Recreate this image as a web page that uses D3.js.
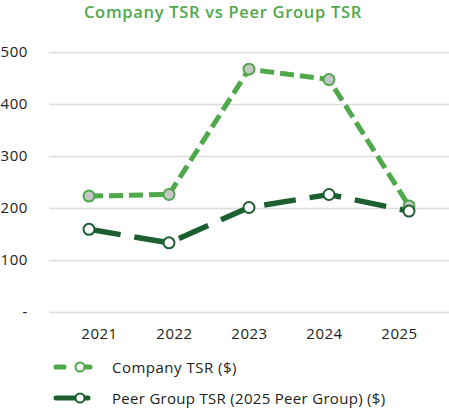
<!DOCTYPE html>
<html lang="en">
<head>
    <meta charset="UTF-8">
    <title>Company TSR vs Peer Group TSR</title>
    <script src="https://cdn.jsdelivr.net/npm/d3@7"></script>
    <style>
        body { margin: 0; background: #fff; }
        text { font-family: "Open Sans", sans-serif; }
    </style>
</head>
<body>
<div id="chart"></div>
<script>

    const years = ["2021", "2022", "2023", "2024", "2025"];
    const companyTSR = [223, 226, 467, 447, 204];
    const peerTSR = [159, 133, 201, 226, 194];
    const yTicks = [0, 100, 200, 300, 400, 500];
    const seriesNames = ["Company TSR ($)", "Peer Group TSR (2025 Peer Group) ($)"];

    const width = 449;
    const height = 408;

    const lightGreen = "#4fa84a";
    const darkGreen = "#1c5f31";

    const svg = d3.select("#chart")
        .append("svg")
        .attr("width", width)
        .attr("height", height)
        .attr("viewBox", [0, 0, width, height]);

    // title
    svg.append("text")
        .attr("x", 223)
        .attr("y", 18)
        .attr("text-anchor", "middle")
        .attr("font-size", 16.5)
        .attr("font-weight", 600)
        .attr("letter-spacing", 0.7)
        .attr("fill", lightGreen)
        .text("Company TSR vs Peer Group TSR");

    const x = d3.scalePoint()
        .domain(years)
        .range([89, 409]);

    // the year labels sit a bit tighter than the points
    const xLabels = d3.scalePoint()
        .domain(years)
        .range([99, 399]);

    const y = d3.scaleLinear()
        .domain([0, 500])
        .range([312, 52]);

    // grid + y labels
    svg.append("g")
        .attr("transform", "translate(49,0)")
        .call(d3.axisLeft(y).tickValues(yTicks).tickSize(-400).tickPadding(21)
            .tickFormat(d => d === 0 ? "-" : d))
        .call(g => g.select(".domain").remove())
        .call(g => g.selectAll("line").attr("stroke", "#dcdcdc").attr("stroke-width", 1.5))
        .call(g => g.selectAll("text")
            .attr("font-size", 15)
            .attr("letter-spacing", 0.6)
            .attr("fill", "#222")
            .attr("font-family", "'Open Sans', sans-serif"));

    svg.append("g")
        .attr("transform", "translate(0,328)")
        .call(d3.axisBottom(xLabels).tickSize(0).tickPadding(0))
        .call(g => g.select(".domain").remove())
        .call(g => g.selectAll("text")
            .attr("font-size", 15)
            .attr("letter-spacing", 0.5)
            .attr("fill", "#222")
            .attr("font-family", "'Open Sans', sans-serif"));

    const line = d3.line()
        .x((d, i) => x(years[i]))
        .y(d => y(d));

    // peer group line
    svg.append("path")
        .datum(peerTSR)
        .attr("d", line)
        .attr("fill", "none")
        .attr("stroke", darkGreen)
        .attr("stroke-width", 5.5)
        .attr("stroke-dasharray", "32,14");

    // company line
    svg.append("path")
        .datum(companyTSR)
        .attr("d", line)
        .attr("fill", "none")
        .attr("stroke", lightGreen)
        .attr("stroke-width", 5)
        .attr("stroke-dasharray", "14,6");

    svg.append("g")
        .selectAll("circle")
        .data(companyTSR)
        .join("circle")
        .attr("cx", (d, i) => x(years[i]))
        .attr("cy", d => y(d))
        .attr("r", 5.5)
        .attr("fill", "#c6c6c6")
        .attr("stroke", lightGreen)
        .attr("stroke-width", 2);

    svg.append("g")
        .selectAll("circle")
        .data(peerTSR)
        .join("circle")
        .attr("cx", (d, i) => x(years[i]))
        .attr("cy", d => y(d))
        .attr("r", 5.5)
        .attr("fill", "#fff")
        .attr("stroke", darkGreen)
        .attr("stroke-width", 2);

    // legend
    const legend = svg.append("g");

    const lg1 = legend.append("g").attr("transform", "translate(0,367)");
    lg1.append("line")
        .attr("x1", 56).attr("x2", 104)
        .attr("stroke", lightGreen)
        .attr("stroke-width", 5)
        .attr("stroke-linecap", "round")
        .attr("stroke-dasharray", "8,18");
    lg1.append("circle")
        .attr("cx", 80).attr("r", 4.5)
        .attr("fill", "#fff")
        .attr("stroke", lightGreen)
        .attr("stroke-width", 2);
    lg1.append("text")
        .attr("x", 112).attr("y", 5.5)
        .attr("font-size", 15)
        .attr("letter-spacing", 0.5)
        .attr("fill", "#222")
        .text(seriesNames[0]);

    const lg2 = legend.append("g").attr("transform", "translate(0,398)");
    lg2.append("line")
        .attr("x1", 56).attr("x2", 88)
        .attr("stroke", darkGreen)
        .attr("stroke-width", 5)
        .attr("stroke-linecap", "round");
    lg2.append("circle")
        .attr("cx", 80).attr("r", 4.5)
        .attr("fill", "#fff")
        .attr("stroke", darkGreen)
        .attr("stroke-width", 2);
    lg2.append("text")
        .attr("x", 112).attr("y", 5.5)
        .attr("font-size", 15)
        .attr("letter-spacing", 0.3)
        .attr("fill", "#222")
        .text(seriesNames[1]);

</script>
</body>
</html>
